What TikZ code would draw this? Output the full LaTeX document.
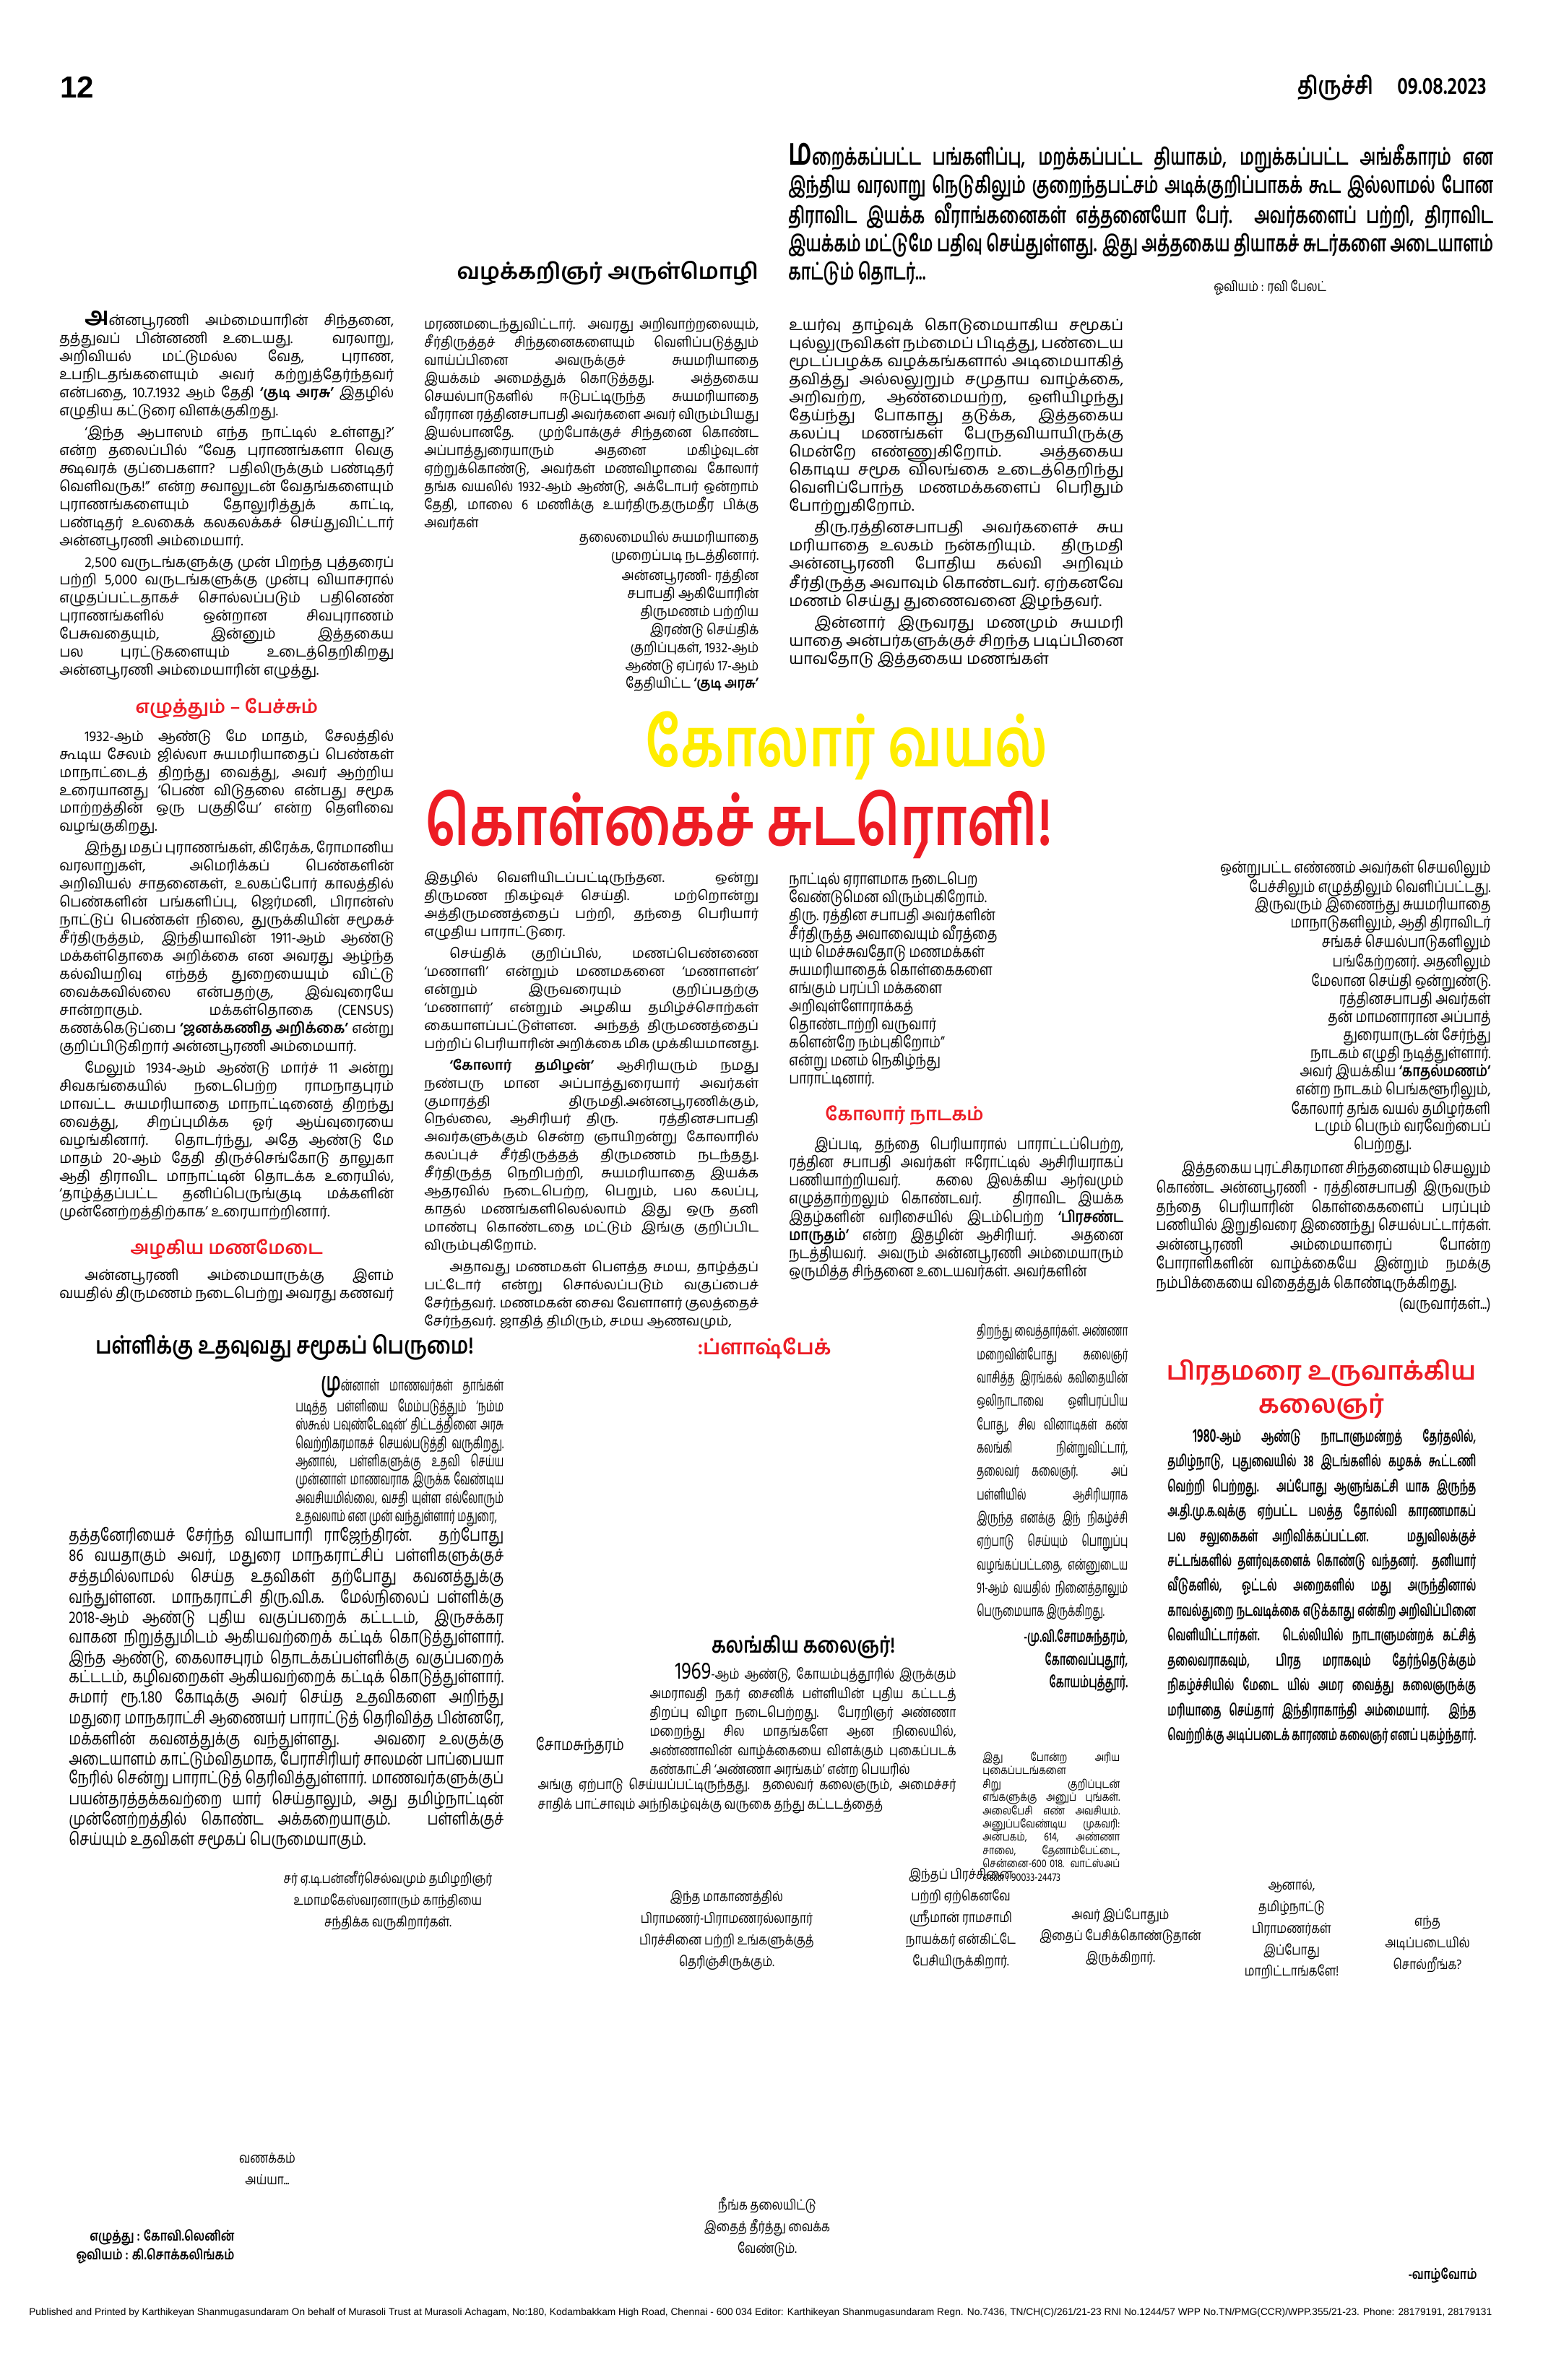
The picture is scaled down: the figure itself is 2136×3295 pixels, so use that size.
\documentclass[tikz,border=0pt]{standalone}
\usepackage{fontspec}
\usepackage{graphicx}
\usetikzlibrary{positioning}
\setmainfont{Hind Madurai}[Script=Tamil]
\newfontfamily\densefont{Hind Madurai}[Script=Tamil,FakeStretch=0.94]
\newfontfamily\tightfont{Hind Madurai}[Script=Tamil,FakeStretch=0.88]
\newfontfamily\condfont{Hind Madurai}[Script=Tamil,FakeStretch=0.8]
\newfontfamily\introfont{Hind Madurai}[Script=Tamil,FakeStretch=0.68]
\newfontfamily\narrowfont{Hind Madurai}[Script=Tamil,FakeStretch=0.62]
\newfontfamily\titlefont{Hind Madurai}[Script=Tamil,FakeStretch=0.7]
\newfontfamily\footfont{Liberation Sans}
\definecolor{headred}{RGB}{237,28,36}
\definecolor{titleyellow}{RGB}{255,237,0}
\newcommand\ind{\hspace*{7mm}}
\newcommand\gap{\par\vspace{1mm}}
\newcommand\bodysize{\fontsize{12}{14.2}\selectfont}
\newcommand\densesize{\densefont\fontsize{11.55}{14.2}\selectfont}
\newcommand\tightsize{\tightfont\fontsize{11.2}{14.2}\selectfont}

\begin{document}
\begin{tikzpicture}[x=0.2mm, y=-0.2mm,
  col/.style={anchor=north west, inner sep=0pt, text width=92.6mm, align=justify, font=\bodysize},
  dense/.style={col, font=\densesize},
  tail/.style={anchor=north east, inner sep=0pt, align=right, font=\tightsize},
  subhead/.style={inner sep=0pt, text=headred, font=\fontsize{14.5}{18}\selectfont\bfseries},
  bubble/.style={anchor=north, inner sep=0pt, align=center, font=\condfont\fontsize{11}{17}\selectfont},
  credit/.style={inner sep=0pt, font=\condfont\fontsize{11}{15}\selectfont\bfseries}]
\useasboundingbox (0,0) rectangle (2136,3295);

% masthead
\node[anchor=west, inner sep=0pt, font=\footfont\bfseries\fontsize{24}{24}\selectfont] (pageno) at (83,121) {12};
\node[anchor=east, inner sep=0pt, font=\condfont\bfseries\fontsize{19}{20}\selectfont] (date) at (2058,121) {திருச்சி\quad 09.08.2023};

% series intro
\node[anchor=north west, inner sep=0pt, text width=195.2mm, align=justify,
      font=\introfont\bfseries\fontsize{18}{22.2}\selectfont] (intro) at (1091,198)
 {{\fontsize{30}{22}\selectfont ம}றைக்கப்பட்ட பங்களிப்பு, மறக்கப்பட்ட தியாகம், மறுக்கப்பட்ட அங்கீகாரம் என இந்திய வரலாறு நெடுகிலும் குறைந்தபட்சம் அடிக்குறிப்பாகக் கூட இல்லாமல் போன திராவிட இயக்க வீராங்கனைகள் எத்தனையோ பேர். அவர்களைப் பற்றி, திராவிட இயக்கம் மட்டுமே பதிவு செய்துள்ளது. இது அத்தகைய தியாகச் சுடர்களை அடையாளம் காட்டும் தொடர்...};
\node[anchor=west, inner sep=0pt, font=\condfont\fontsize{11}{12}\selectfont] (artist) at (1680,398) {ஓவியம் : ரவி பேலட்};
\node[anchor=east, inner sep=0pt] (byline) at (1050,378)
 {\resizebox{83.4mm}{!}{\bfseries வழக்கறிஞர் அருள்மொழி}};

% column 1
\node[dense] (c1a) at (82,430)
 {\ind{\fontsize{20}{14}\selectfont\bfseries அ}ன்னபூரணி அம்மையாரின் சிந்தனை, தத்துவப் பின்னணி உடையது. வரலாறு, அறிவியல் மட்டுமல்ல வேத, புராண, உபநிடதங்களையும் அவர் கற்றுத்தேர்ந்தவர் என்பதை, 10.7.1932 ஆம் தேதி \textbf{‘குடி அரசு’} இதழில் எழுதிய கட்டுரை விளக்குகிறது.\gap
 \ind ‘இந்த ஆபாஸம் எந்த நாட்டில் உள்ளது?’ என்ற தலைப்பில் “வேத புராணங்களா வெகு க்ஷவரக் குப்பைகளா? பதிலிருக்கும் பண்டிதர் வெளிவருக!” என்ற சவாலுடன் வேதங்களையும் புராணங்களையும் தோலுரித்துக் காட்டி, பண்டிதர் உலகைக் கலகலக்கச் செய்துவிட்டார் அன்னபூரணி அம்மையார்.\gap
 \ind 2,500 வருடங்களுக்கு முன் பிறந்த புத்தரைப் பற்றி 5,000 வருடங்களுக்கு முன்பு வியாசரால் எழுதப்பட்டதாகச் சொல்லப்படும் பதினெண் புராணங்களில் ஒன்றான சிவபுராணம் பேசுவதையும், இன்னும் இத்தகைய பல புரட்டுகளையும் உடைத்தெறிகிறது அன்னபூரணி அம்மையாரின் எழுத்து.};
\node[subhead, below=5mm of c1a] (h1) {எழுத்தும் – பேச்சும்};
\node[dense, below=2.5mm of h1] (c1b)
 {\ind 1932-ஆம் ஆண்டு மே மாதம், சேலத்தில் கூடிய சேலம் ஜில்லா சுயமரியாதைப் பெண்கள் மாநாட்டைத் திறந்து வைத்து, அவர் ஆற்றிய உரையானது ‘பெண் விடுதலை என்பது சமூக மாற்றத்தின் ஒரு பகுதியே’ என்ற தெளிவை வழங்குகிறது.\gap
 \ind இந்து மதப் புராணங்கள், கிரேக்க, ரோமானிய வரலாறுகள், அமெரிக்கப் பெண்களின் அறிவியல் சாதனைகள், உலகப்போர் காலத்தில் பெண்களின் பங்களிப்பு, ஜெர்மனி, பிரான்ஸ் நாட்டுப் பெண்கள் நிலை, துருக்கியின் சமூகச் சீர்திருத்தம், இந்தியாவின் 1911-ஆம் ஆண்டு மக்கள்தொகை அறிக்கை என அவரது ஆழ்ந்த கல்வியறிவு எந்தத் துறையையும் விட்டு வைக்கவில்லை என்பதற்கு, இவ்வுரையே சான்றாகும். மக்கள்தொகை (CENSUS) கணக்கெடுப்பை \textbf{‘ஜனக்கணித அறிக்கை’} என்று குறிப்பிடுகிறார் அன்னபூரணி அம்மையார்.\gap
 \ind மேலும் 1934-ஆம் ஆண்டு மார்ச் 11 அன்று சிவகங்கையில் நடைபெற்ற ராமநாதபுரம் மாவட்ட சுயமரியாதை மாநாட்டினைத் திறந்து வைத்து, சிறப்புமிக்க ஓர் ஆய்வுரையை வழங்கினார். தொடர்ந்து, அதே ஆண்டு மே மாதம் 20-ஆம் தேதி திருச்செங்கோடு தாலுகா ஆதி திராவிட மாநாட்டின் தொடக்க உரையில், ‘தாழ்த்தப்பட்ட தனிப்பெருங்குடி மக்களின் முன்னேற்றத்திற்காக’ உரையாற்றினார்.};
\node[subhead, below=5mm of c1b] (h2) {அழகிய மணமேடை};
\node[dense, below=2.5mm of h2] (c1c)
 {\ind அன்னபூரணி அம்மையாருக்கு இளம் வயதில் திருமணம் நடைபெற்று அவரது கணவர்};

% column 2, upper part
\node[col, font=\tightsize] (c2a) at (587,440)
 {மரணமடைந்துவிட்டார். அவரது அறிவாற்றலையும், சீர்திருத்தச் சிந்தனைகளையும் வெளிப்படுத்தும் வாய்ப்பினை அவருக்குச் சுயமரியாதை இயக்கம் அமைத்துக் கொடுத்தது. அத்தகைய செயல்பாடுகளில் ஈடுபட்டிருந்த சுயமரியாதை வீரரான ரத்தினசபாபதி அவர்களை அவர் விரும்பியது இயல்பானதே. முற்போக்குச் சிந்தனை கொண்ட அப்பாத்துரையாரும் அதனை மகிழ்வுடன் ஏற்றுக்கொண்டு, அவர்கள் மணவிழாவை கோலார் தங்க வயலில் 1932-ஆம் ஆண்டு, அக்டோபர் ஒன்றாம் தேதி, மாலை 6 மணிக்கு உயர்திரு.தருமதீர பிக்கு அவர்கள்};
\node[tail] (c2b) at (c2a.south east) {தலைமையில் சுயமரியாதை\\ முறைப்படி நடத்தினார்.};
\node[tail, below=1.4mm of c2b.south east, anchor=north east] (c2c)
 {அன்னபூரணி- ரத்தின\\ சபாபதி ஆகியோரின்\\ திருமணம் பற்றிய\\ இரண்டு செய்திக்\\ குறிப்புகள், 1932-ஆம்\\ ஆண்டு ஏப்ரல் 17-ஆம்\\ தேதியிட்ட \textbf{‘குடி அரசு’}};

% column 3, upper part
\node[col, font=\fontsize{12.15}{14.2}\selectfont] (c3a) at (1092,440)
 {உயர்வு தாழ்வுக் கொடுமையாகிய சமூகப் புல்லுருவிகள் நம்மைப் பிடித்து, பண்டைய மூடப்பழக்க வழக்கங்களால் அடிமையாகித் தவித்து அல்லலுறும் சமுதாய வாழ்க்கை, அறிவற்ற, ஆண்மையற்ற, ஒளியிழந்து தேய்ந்து போகாது தடுக்க, இத்தகைய கலப்பு மணங்கள் பேருதவியாயிருக்கு மென்றே எண்ணுகிறோம். அத்தகைய கொடிய சமூக விலங்கை உடைத்தெறிந்து வெளிப்போந்த மணமக்களைப் பெரிதும் போற்றுகிறோம்.\gap
 \ind திரு.ரத்தினசபாபதி அவர்களைச் சுய மரியாதை உலகம் நன்கறியும். திருமதி அன்னபூரணி போதிய கல்வி அறிவும் சீர்திருத்த அவாவும் கொண்டவர். ஏற்கனவே மணம் செய்து துணைவனை இழந்தவர்.\gap
 \ind இன்னார் இருவரது மணமும் சுயமரி யாதை அன்பர்களுக்குச் சிறந்த படிப்பினை யாவதோடு இத்தகைய மணங்கள்};

% headline
\node[inner sep=0pt, text=titleyellow] (title1) at (1172,1032)
 {\resizebox*{111.4mm}{19mm}{\titlefont\bfseries கோலார் வயல்}};
\node[inner sep=0pt, text=headred] (title2) at (1023,1141)
 {\resizebox*{173.6mm}{19mm}{\titlefont\bfseries கொள்கைச் சுடரொளி!}};

% column 2, lower part
\node[col, font=\fontsize{10.7}{14.2}\selectfont] (c2d) at (587,1206)
 {இதழில் வெளியிடப்பட்டிருந்தன. ஒன்று திருமண நிகழ்வுச் செய்தி. மற்றொன்று அத்திருமணத்தைப் பற்றி, தந்தை பெரியார் எழுதிய பாராட்டுரை.\gap
 \ind செய்திக் குறிப்பில், மணப்பெண்ணை ‘மணாளி’ என்றும் மணமகனை ‘மணாளன்’ என்றும் இருவரையும் குறிப்பதற்கு ‘மணாளர்’ என்றும் அழகிய தமிழ்ச்சொற்கள் கையாளப்பட்டுள்ளன. அந்தத் திருமணத்தைப் பற்றிப் பெரியாரின் அறிக்கை மிக முக்கியமானது.\gap
 \ind\textbf{‘கோலார் தமிழன்’} ஆசிரியரும் நமது நண்பரு மான அப்பாத்துரையார் அவர்கள் குமாரத்தி திருமதி.அன்னபூரணிக்கும், நெல்லை, ஆசிரியர் திரு. ரத்தினசபாபதி அவர்களுக்கும் சென்ற ஞாயிறன்று கோலாரில் கலப்புச் சீர்திருத்தத் திருமணம் நடந்தது. சீர்திருத்த நெறிபற்றி, சுயமரியாதை இயக்க ஆதரவில் நடைபெற்ற, பெறும், பல கலப்பு, காதல் மணங்களிலெல்லாம் இது ஒரு தனி மாண்பு கொண்டதை மட்டும் இங்கு குறிப்பிட விரும்புகிறோம்.\gap
 \ind அதாவது மணமகள் பௌத்த சமய, தாழ்த்தப் பட்டோர் என்று சொல்லப்படும் வகுப்பைச் சேர்ந்தவர். மணமகன் சைவ வேளாளர் குலத்தைச் சேர்ந்தவர். ஜாதித் திமிரும், சமய ஆணவமும்,};

% column 3, lower part
\node[anchor=north west, inner sep=0pt, align=left, font=\condfont\fontsize{12.5}{14.2}\selectfont] (c3c) at (1092,1206)
 {நாட்டில் ஏராளமாக நடைபெற\\ வேண்டுமென விரும்புகிறோம்.\\ திரு. ரத்தின சபாபதி அவர்களின்\\ சீர்திருத்த அவாவையும் வீரத்தை\\ யும் மெச்சுவதோடு மணமக்கள்\\ சுயமரியாதைக் கொள்கைகளை\\ எங்கும் பரப்பி மக்களை\\ அறிவுள்ளோராக்கத்\\ தொண்டாற்றி வருவார்\\ களென்றே நம்புகிறோம்”\\ என்று மனம் நெகிழ்ந்து\\ பாராட்டினார்.};
\node[subhead, anchor=north west] (h3) at ([xshift=10mm, yshift=-5mm]c3c.south west) {கோலார் நாடகம்};
\node[col, font=\condfont\fontsize{12.5}{14.2}\selectfont, anchor=north west] (c3d) at ([yshift=-3mm]c3c.south west |- h3.south)
 {\ind இப்படி, தந்தை பெரியாரால் பாராட்டப்பெற்ற, ரத்தின சபாபதி அவர்கள் ஈரோட்டில் ஆசிரியராகப் பணியாற்றியவர். கலை இலக்கிய ஆர்வமும் எழுத்தாற்றலும் கொண்டவர். திராவிட இயக்க இதழ்களின் வரிசையில் இடம்பெற்ற \textbf{‘பிரசண்ட மாருதம்’} என்ற இதழின் ஆசிரியர். அதனை நடத்தியவர். அவரும் அன்னபூரணி அம்மையாரும் ஒருமித்த சிந்தனை உடையவர்கள். அவர்களின்};

% column 4, lower part
\node[tail, font=\condfont\fontsize{12.5}{14.2}\selectfont] (c4a) at (2064,1190)
 {ஒன்றுபட்ட எண்ணம் அவர்கள் செயலிலும்\\ பேச்சிலும் எழுத்திலும் வெளிப்பட்டது.\\ இருவரும் இணைந்து சுயமரியாதை\\ மாநாடுகளிலும், ஆதி திராவிடர்\\ சங்கச் செயல்பாடுகளிலும்\\ பங்கேற்றனர். அதனிலும்\\ மேலான செய்தி ஒன்றுண்டு.\\ ரத்தினசபாபதி அவர்கள்\\ தன் மாமனாரான அப்பாத்\\ துரையாருடன் சேர்ந்து\\ நாடகம் எழுதி நடித்துள்ளார்.\\ அவர் இயக்கிய \textbf{‘காதல்மணம்’}\\ என்ற நாடகம் பெங்களூரிலும்,\\ கோலார் தங்க வயல் தமிழர்களி\\ டமும் பெரும் வரவேற்பைப்\\ பெற்றது.\hspace*{22mm}};
\node[col, font=\condfont\fontsize{12.5}{14.2}\selectfont, anchor=north east] (c4b) at ([yshift=-1.4mm]c4a.south east)
 {\ind இத்தகைய புரட்சிகரமான சிந்தனையும் செயலும் கொண்ட அன்னபூரணி - ரத்தினசபாபதி இருவரும் தந்தை பெரியாரின் கொள்கைகளைப் பரப்பும் பணியில் இறுதிவரை இணைந்து செயல்பட்டார்கள். அன்னபூரணி அம்மையாரைப் போன்ற போராளிகளின் வாழ்க்கையே இன்றும் நமக்கு நம்பிக்கையை விதைத்துக் கொண்டிருக்கிறது.};
\node[tail, font=\condfont\fontsize{12.5}{14.2}\selectfont] (c4c) at ([yshift=-1mm]c4b.south east) {(வருவார்கள்...)};

% school article
\node[inner sep=0pt] (school) at (394,1867)
 {\resizebox{104.6mm}{!}{\condfont\bfseries பள்ளிக்கு உதவுவது சமூகப் பெருமை!}};
\node[anchor=north west, inner sep=0pt, text width=57.6mm, align=justify, font=\narrowfont\fontsize{12.5}{14.4}\selectfont] (s1) at (409,1905)
 {\ind{\fontsize{20}{14}\selectfont\bfseries மு}ன்னாள் மாணவர்கள் தாங்கள் படித்த பள்ளியை மேம்படுத்தும் ‘நம்ம ஸ்கூல் பவுண்டேஷன்’ திட்டத்தினை அரசு வெற்றிகரமாகச் செயல்படுத்தி வருகிறது. ஆனால், பள்ளிகளுக்கு உதவி செய்ய முன்னாள் மாணவராக இருக்க வேண்டிய அவசியமில்லை, வசதி யுள்ள எல்லோரும் உதவலாம் என முன் வந்துள்ளார் மதுரை,};
\node[anchor=north east, inner sep=0pt, text width=120.4mm, align=justify, font=\condfont\fontsize{13.5}{14.4}\selectfont] (s2) at (s1.south east)
 {தத்தனேரியைச் சேர்ந்த வியாபாரி ராஜேந்திரன். தற்போது 86 வயதாகும் அவர், மதுரை மாநகராட்சிப் பள்ளிகளுக்குச் சத்தமில்லாமல் செய்த உதவிகள் தற்போது கவனத்துக்கு வந்துள்ளன. மாநகராட்சி திரு.வி.க. மேல்நிலைப் பள்ளிக்கு 2018-ஆம் ஆண்டு புதிய வகுப்பறைக் கட்டடம், இருசக்கர வாகன நிறுத்துமிடம் ஆகியவற்றைக் கட்டிக் கொடுத்துள்ளார். இந்த ஆண்டு, கைலாசபுரம் தொடக்கப்பள்ளிக்கு வகுப்பறைக் கட்டடம், கழிவறைகள் ஆகியவற்றைக் கட்டிக் கொடுத்துள்ளார். சுமார் ரூ.1.80 கோடிக்கு அவர் செய்த உதவிகளை அறிந்து மதுரை மாநகராட்சி ஆணையர் பாராட்டுத் தெரிவித்த பின்னரே, மக்களின் கவனத்துக்கு வந்துள்ளது. அவரை உலகுக்கு அடையாளம் காட்டும்விதமாக, பேராசிரியர் சாலமன் பாப்பையா நேரில் சென்று பாராட்டுத் தெரிவித்துள்ளார். மாணவர்களுக்குப் பயன்தரத்தக்கவற்றை யார் செய்தாலும், அது தமிழ்நாட்டின் முன்னேற்றத்தில் கொண்ட அக்கறையாகும். பள்ளிக்குச் செய்யும் உதவிகள் சமூகப் பெருமையாகும்.};

% flashback
\node[inner sep=0pt, text=headred] (flash) at (1058,1867)
 {\resizebox{37mm}{!}{\bfseries :ப்ளாஷ்பேக்}};
\node[anchor=north west, inner sep=0pt, text width=41.8mm, align=justify, font=\narrowfont\fontsize{12}{18.4}\selectfont] (f1) at (1352,1833)
 {திறந்து வைத்தார்கள். அண்ணா மறைவின்போது கலைஞர் வாசித்த இரங்கல் கவிதையின் ஒலிநாடாவை ஒளிபரப்பிய போது, சில வினாடிகள் கண் கலங்கி நின்றுவிட்டார், தலைவர் கலைஞர். அப் பள்ளியில் ஆசிரியராக இருந்த எனக்கு இந் நிகழ்ச்சி ஏற்பாடு செய்யும் பொறுப்பு வழங்கப்பட்டதை, என்னுடைய 91-ஆம் வயதில் நினைத்தாலும் பெருமையாக இருக்கிறது.};
\node[tail, font=\narrowfont\fontsize{12.5}{18}\selectfont\bfseries] (sign) at ([yshift=-2mm]f1.south east)
 {-மு.வி.சோமசுந்தரம்,\\ கோவைப்புதூர்,\\ கோயம்புத்தூர்.};
\node[inner sep=0pt] (tears) at (1112,2280)
 {\resizebox{50.8mm}{!}{\condfont\bfseries கலங்கிய கலைஞர்!}};
\node[anchor=north east, inner sep=0pt, text width=84.8mm, align=justify, font=\condfont\fontsize{11.2}{15}\selectfont] (k1) at (1324,2302)
 {\ind{\fontsize{19}{14}\selectfont 1969}-ஆம் ஆண்டு, கோயம்புத்தூரில் இருக்கும் அமராவதி நகர் சைனிக் பள்ளியின் புதிய கட்டடத் திறப்பு விழா நடைபெற்றது. பேரறிஞர் அண்ணா மறைந்து சில மாதங்களே ஆன நிலையில், அண்ணாவின் வாழ்க்கையை விளக்கும் புகைப்படக் கண்காட்சி ‘அண்ணா அரங்கம்’ என்ற பெயரில்};
\node[anchor=north east, inner sep=0pt, text width=115.8mm, align=justify, font=\condfont\fontsize{11.2}{15}\selectfont] (k2) at (k1.south east)
 {அங்கு ஏற்பாடு செய்யப்பட்டிருந்தது. தலைவர் கலைஞரும், அமைச்சர் சாதிக் பாட்சாவும் அந்நிகழ்வுக்கு வருகை தந்து கட்டடத்தைத்};
\node[anchor=east, inner sep=0pt, font=\condfont\fontsize{13}{14}\selectfont] (photo) at ([xshift=-7mm, yshift=9mm]k1.south west) {சோமசுந்தரம்};
\node[anchor=north west, inner sep=0pt, text width=38mm, align=justify, font=\condfont\fontsize{9}{10.5}\selectfont] (note) at (1360,2425)
 {இது போன்ற அரிய புகைப்படங்களை சிறு குறிப்புடன் எங்களுக்கு அனுப் புங்கள். அலைபேசி எண் அவசியம். அனுப்பவேண்டிய முகவரி: அன்பகம், 614, அண்ணா சாலை, தேனாம்பேட்டை, சென்னை-600 018. வாட்ஸ்அப் எண் : 90033-24473};

% kalaignar box
\node[inner sep=0pt, align=center, text=headred, font=\fontsize{20}{26}\selectfont\bfseries] (pm) at (1829,1924)
 {பிரதமரை உருவாக்கிய\\ கலைஞர்};
\node[anchor=north west, inner sep=0pt, text width=85.4mm, align=justify, font=\narrowfont\fontsize{12.5}{19.6}\selectfont\bfseries] (pmtext) at (1616,1978)
 {\ind{\fontsize{15}{19}\selectfont 1980}-ஆம் ஆண்டு நாடாளுமன்றத் தேர்தலில், தமிழ்நாடு, புதுவையில் 38 இடங்களில் கழகக் கூட்டணி வெற்றி பெற்றது. அப்போது ஆளுங்கட்சி யாக இருந்த அ.தி.மு.க.வுக்கு ஏற்பட்ட பலத்த தோல்வி காரணமாகப் பல சலுகைகள் அறிவிக்கப்பட்டன. மதுவிலக்குச் சட்டங்களில் தளர்வுகளைக் கொண்டு வந்தனர். தனியார் வீடுகளில், ஓட்டல் அறைகளில் மது அருந்தினால் காவல்துறை நடவடிக்கை எடுக்காது என்கிற அறிவிப்பினை வெளியிட்டார்கள். டெல்லியில் நாடாளுமன்றக் கட்சித் தலைவராகவும், பிரத மராகவும் தேர்ந்தெடுக்கும் நிகழ்ச்சியில் மேடை யில் அமர வைத்து கலைஞருக்கு மரியாதை செய்தார் இந்திராகாந்தி அம்மையார். இந்த வெற்றிக்கு அடிப்படைக் காரணம் கலைஞர் எனப் புகழ்ந்தார்.};

% comic strip
\node[bubble] (b1) at (537,2590) {சர் ஏ.டி.பன்னீர்செல்வமும் தமிழறிஞர்\\ உமாமகேஸ்வரனாரும் காந்தியை\\ சந்திக்க வருகிறார்கள்.};
\node[bubble] (b2) at (1006,2617) {இந்த மாகாணத்தில்\\ பிராமணர்-பிராமணரல்லாதார்\\ பிரச்சினை பற்றி உங்களுக்குத்\\ தெரிஞ்சிருக்கும்.};
\node[bubble] (b3) at (1330,2586) {இந்தப் பிரச்சினை\\ பற்றி ஏற்கெனவே\\ ஸ்ரீமான் ராமசாமி\\ நாயக்கர் என்கிட்டே\\ பேசியிருக்கிறார்.};
\node[bubble] (b4) at (1551,2641) {அவர் இப்போதும்\\ இதைப் பேசிக்கொண்டுதான்\\ இருக்கிறார்.};
\node[bubble] (b5) at (1788,2602) {ஆனால்,\\ தமிழ்நாட்டு\\ பிராமணர்கள்\\ இப்போது\\ மாறிட்டாங்களே!};
\node[bubble] (b6) at (1976,2652) {எந்த\\ அடிப்படையில்\\ சொல்றீங்க?};
\node[bubble] (b7) at (370,2980) {வணக்கம்\\ அய்யா...};
\node[bubble] (b8) at (1062,3042) {நீங்க தலையிட்டு\\ இதைத் தீர்த்து வைக்க\\ வேண்டும்.};
\node[credit, anchor=north, align=right] (writer) at (215,3086) {எழுத்து : கோவி.லெனின்\\ ஓவியம் : கி.சொக்கலிங்கம்};
\node[credit, anchor=east] (end) at (2045,3150) {-வாழ்வோம்};

% imprint
\node[anchor=west, inner sep=0pt] (imprint) at (40,3202)
 {\resizebox{405mm}{2mm}{\footfont Published and Printed by Karthikeyan Shanmugasundaram On behalf of Murasoli Trust at Murasoli Achagam, No:180, Kodambakkam High Road, Chennai - 600 034 Editor: Karthikeyan Shanmugasundaram Regn. No.7436, TN/CH(C)/261/21-23 RNI No.1244/57 WPP No.TN/PMG(CCR)/WPP.355/21-23. Phone: 28179191, 28179131}};
\end{tikzpicture}
\end{document}
